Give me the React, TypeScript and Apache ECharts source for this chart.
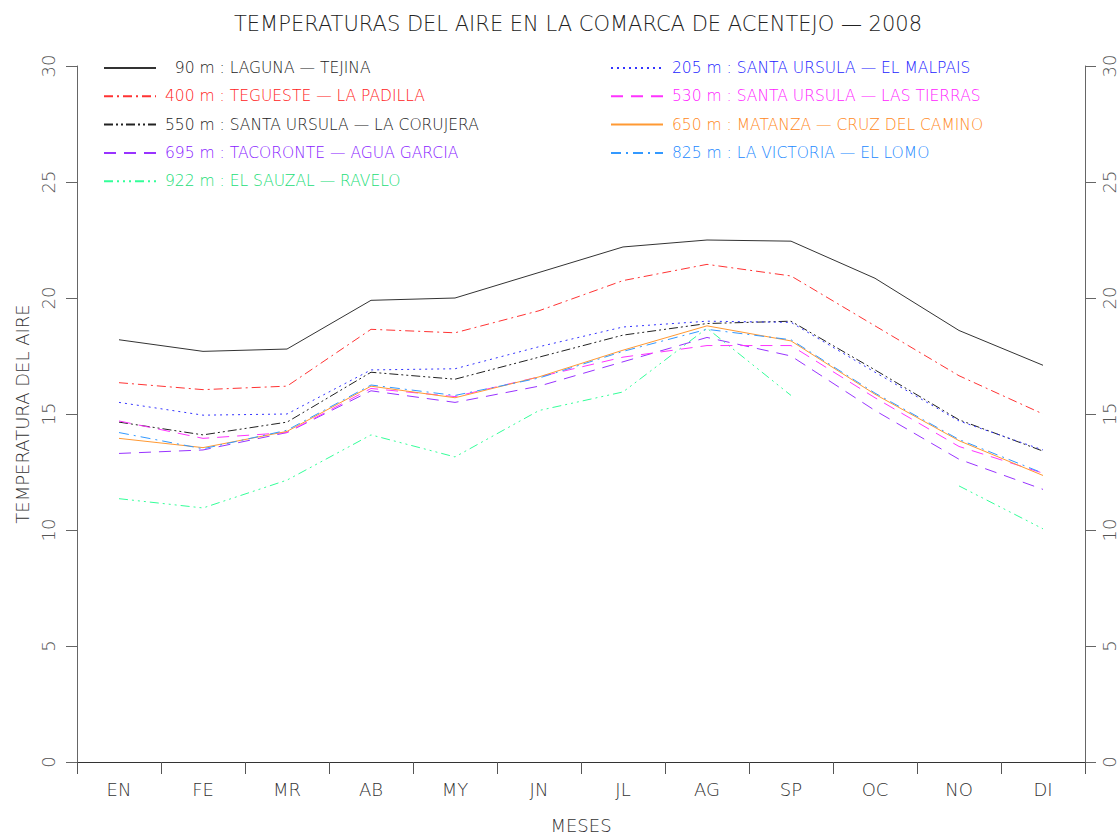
import React, { useEffect, useRef } from 'react';
import * as echarts from 'echarts';

const months = ['EN', 'FE', 'MR', 'AB', 'MY', 'JN', 'JL', 'AG', 'SP', 'OC', 'NO', 'DI'];

const name90 = '\u200790 m : LAGUNA — TEJINA';
const name400 = '400 m : TEGUESTE — LA PADILLA';
const name550 = '550 m : SANTA URSULA — LA CORUJERA';
const name695 = '695 m : TACORONTE — AGUA GARCIA';
const name922 = '922 m : EL SAUZAL — RAVELO';
const name205 = '205 m : SANTA URSULA — EL MALPAIS';
const name530 = '530 m : SANTA URSULA — LAS TIERRAS';
const name650 = '650 m : MATANZA — CRUZ DEL CAMINO';
const name825 = '825 m : LA VICTORIA — EL LOMO';

const s90 = [18.2, 17.7, 17.8, 19.9, 20.0, 21.1, 22.2, 22.5, 22.45, 20.85, 18.6, 17.1];
const s400 = [16.35, 16.05, 16.2, 18.65, 18.5, 19.45, 20.75, 21.45, 20.95, 18.8, 16.65, 15.0];
const s550 = [14.65, 14.1, 14.65, 16.8, 16.5, 17.45, 18.4, 18.9, 19.0, 16.9, 14.75, 13.4];
const s695 = [13.3, 13.45, 14.2, 16.0, 15.5, 16.2, 17.25, 18.3, 17.5, 15.15, 13.05, 11.75];
const s922 = [11.35, 10.95, 12.15, 14.1, 13.15, 15.15, 15.95, 18.7, 15.8, null, 11.9, 10.05];
const s205 = [15.5, 14.95, 15.0, 16.9, 16.95, 17.9, 18.75, 19.0, 18.95, 16.8, 14.7, 13.45];
const s530 = [14.7, 13.95, 14.2, 16.1, 15.75, 16.6, 17.45, 17.95, 17.95, 15.7, 13.6, 12.45];
const s650 = [13.95, 13.55, 14.25, 16.2, 15.7, 16.6, 17.75, 18.8, 18.15, 15.85, 13.85, 12.35];
const s825 = [14.2, 13.5, 14.3, 16.25, 15.8, 16.55, 17.7, 18.65, 18.2, 15.9, 13.9, 12.45];

const FONT = "'DejaVu Sans', sans-serif";
const FW = 200;

const stations = [
  { name: name90, data: s90, color: '#333333', text: '#222222', dash: 'solid' as any },
  { name: name400, data: s400, color: '#ff3333', text: '#ff2222', dash: [9, 4, 2, 4] },
  { name: name550, data: s550, color: '#222222', text: '#222222', dash: [9, 3, 2, 3, 2, 3] },
  { name: name695, data: s695, color: '#9933ff', text: '#8822ff', dash: [12, 8] },
  { name: name922, data: s922, color: '#33ff99', text: '#22dd77', dash: [9, 4, 2, 4, 2, 4, 2, 4] },
  { name: name205, data: s205, color: '#3333ff', text: '#2222ff', dash: [2, 4] },
  { name: name530, data: s530, color: '#ff33ff', text: '#ff22ff', dash: [12, 8] },
  { name: name650, data: s650, color: '#ff9933', text: '#ff8822', dash: 'solid' as any },
  { name: name825, data: s825, color: '#3399ff', text: '#2288ff', dash: [10, 5, 2, 5] },
];

const leftLegend = [name90, name400, name550, name695, name922];
const rightLegend = [name205, name530, name650, name825];

function legendData(names: string[]) {
  return names.map((n) => {
    const st = stations.find((s) => s.name === n)!;
    return { name: n, textStyle: { color: st.text } };
  });
}

export default function App() {
  const ref = useRef<HTMLDivElement>(null);
  useEffect(() => {
    document.body.style.margin = '0';
    const chart = echarts.init(ref.current!, null, { renderer: 'svg' });
    const legendCommon = {
      orient: 'vertical',
      top: 55,
      itemWidth: 52,
      itemHeight: 14,
      itemGap: 12.3,
      selectedMode: false,
      itemStyle: { opacity: 0 },
      textStyle: { fontFamily: FONT, fontWeight: FW, fontSize: 15.5, padding: [0, 0, 0, 4] },
    };
    const yCommon = {
      type: 'value',
      min: 0,
      max: 30,
      interval: 5,
      splitLine: { show: false },
      axisLine: { show: true, lineStyle: { color: '#666', width: 1 } },
      axisTick: { show: true, length: 11, lineStyle: { color: '#666' } },
    };
    chart.setOption({
      animation: false,
      backgroundColor: '#ffffff',
      title: {
        text: 'TEMPERATURAS DEL AIRE EN LA COMARCA DE ACENTEJO — 2008',
        left: 573,
        top: 8,
        textAlign: 'center',
        textStyle: { fontFamily: FONT, fontSize: 21, fontWeight: FW, color: '#222' },
      },
      legend: [
        { ...legendCommon, left: 98, data: legendData(leftLegend) },
        { ...legendCommon, left: 605, data: legendData(rightLegend) },
      ],
      grid: { left: 77, right: 35, top: 66, bottom: 70, containLabel: false },
      xAxis: {
        type: 'category',
        data: months,
        boundaryGap: true,
        name: 'MESES',
        nameLocation: 'middle',
        nameGap: 54,
        nameTextStyle: { fontFamily: FONT, fontWeight: FW, fontSize: 18, color: '#333' },
        axisLine: { show: true, lineStyle: { color: '#333', width: 1 } },
        axisTick: { show: true, length: 12, lineStyle: { color: '#555' } },
        axisLabel: { fontFamily: FONT, fontWeight: FW, fontSize: 18, color: '#333', margin: 18 },
        splitLine: { show: false },
      },
      yAxis: [
        {
          ...yCommon,
          position: 'left',
          name: 'TEMPERATURA DEL AIRE',
          nameLocation: 'middle',
          nameRotate: 90,
          nameGap: 46,
          nameTextStyle: { fontFamily: FONT, fontWeight: FW, fontSize: 18, color: '#333' },
          axisLabel: { rotate: 90, margin: 20, fontFamily: FONT, fontWeight: FW, fontSize: 18, color: '#555' },
        },
        {
          ...yCommon,
          position: 'right',
          axisLabel: { rotate: 90, margin: 15, fontFamily: FONT, fontWeight: FW, fontSize: 18, color: '#555' },
        },
      ],
      series: stations.map((s) => ({
        name: s.name,
        type: 'line',
        data: s.data,
        yAxisIndex: 0,
        symbol: 'none',
        showSymbol: false,
        connectNulls: false,
        itemStyle: { color: s.color },
        lineStyle: { color: s.color, width: 1, type: s.dash },
      })),
    });
    return () => chart.dispose();
  }, []);
  return (
    <div
      ref={ref}
      style={{ position: 'absolute', left: 0, top: 0, width: 1120, height: 839 }}
    />
  );
}
